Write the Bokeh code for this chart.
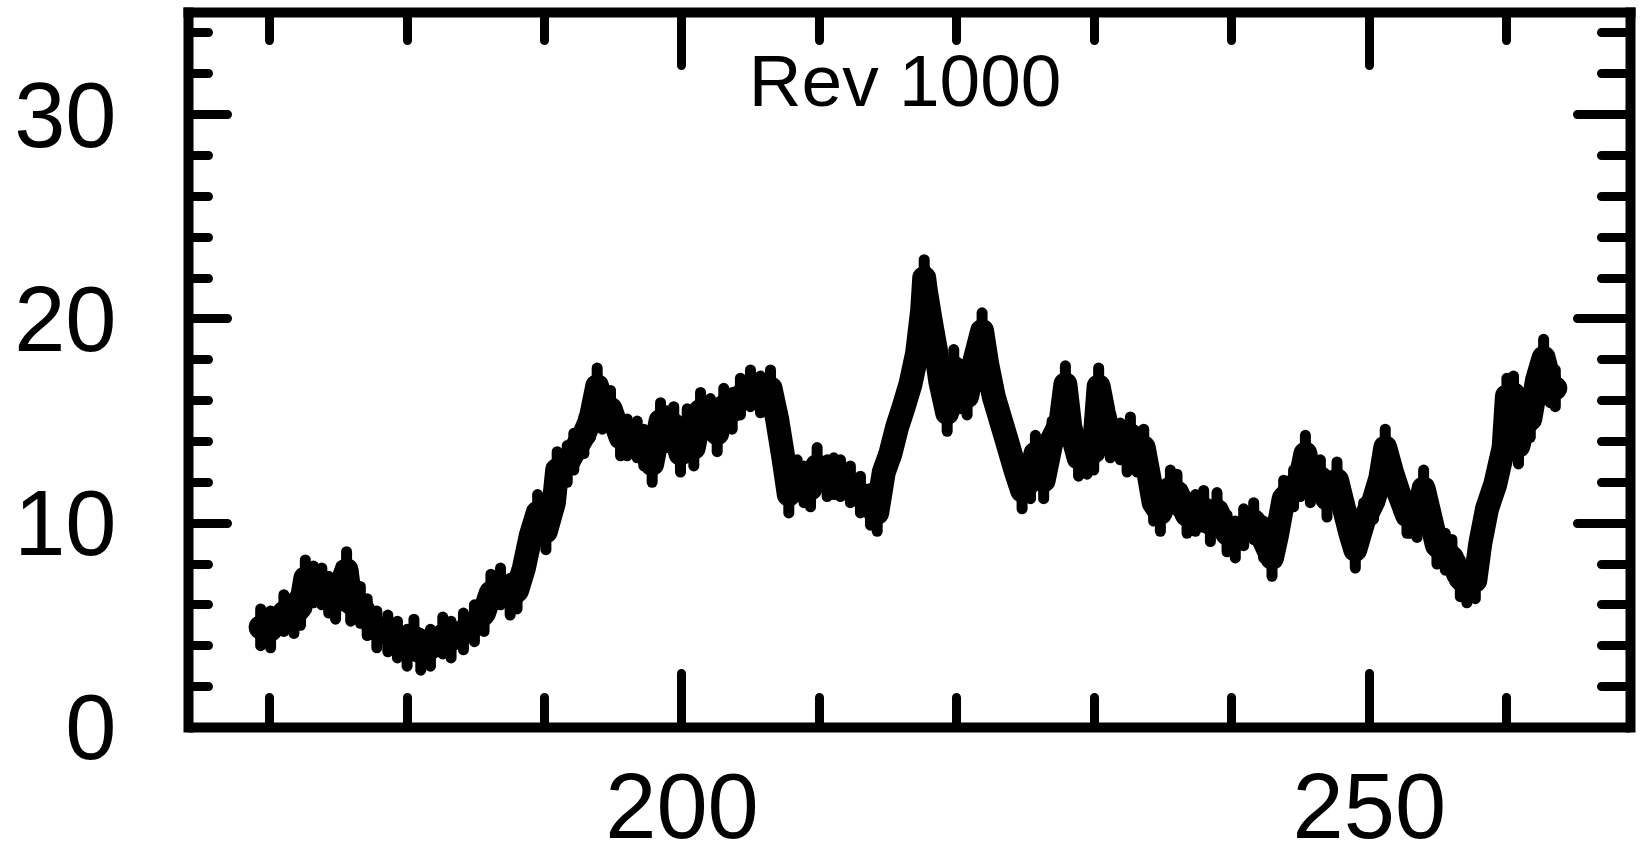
from bokeh.plotting import figure
from bokeh.models import FixedTicker, LinearAxis, Label, Range1d, ColumnDataSource
from bokeh.embed import file_html
from bokeh.resources import INLINE

# ---- data ----
time = [169.35, 170.07, 171.04, 171.77, 172.25, 172.6, 173.2, 173.8, 174.3, 174.8,
        175.2, 175.6, 175.9, 176.6, 177.1, 177.8, 178.6, 179.3, 180.0, 180.5,
        181.0, 181.7, 182.6, 183.2, 184.1, 184.9, 185.6, 186.1, 186.8, 187.5,
        188.0, 188.5, 189.0, 189.5, 190.1, 190.68, 190.92, 191.65, 192.13, 192.86,
        193.35, 193.83, 194.2, 194.8, 195.53, 196.01, 196.74, 197.22, 197.83, 198.44,
        198.92, 199.4, 199.89, 200.38, 200.86, 201.35, 202.07, 202.56, 203.04, 203.65,
        204.25, 204.98, 205.71, 206.44, 206.92, 207.4, 207.77, 208.38, 208.87, 209.35,
        209.83, 210.56, 211.04, 211.53, 212.25, 212.98, 213.71, 214.2, 214.68, 215.16,
        215.65, 216.13, 216.62, 217.1, 217.47, 217.62, 217.71, 218.07, 218.44, 218.8,
        219.29, 219.77, 220.25, 220.74, 221.22, 221.83, 222.2, 222.68, 223.16, 223.65,
        224.25, 224.74, 225.35, 225.71, 226.31, 226.92, 227.53, 227.89, 228.25, 228.85,
        229.47, 229.95, 230.31, 230.68, 231.16, 231.89, 232.38, 232.62, 233.1, 233.59,
        233.95, 234.31, 234.8, 235.53, 236.01, 236.74, 237.35, 237.95, 238.44, 238.92,
        239.65, 240.25, 240.86, 241.59, 242.31, 242.92, 243.28, 243.77, 244.49, 244.98,
        245.35, 245.71, 246.44, 246.92, 247.65, 248.13, 248.62, 248.98, 249.59, 250.31,
        250.8, 251.16, 251.65, 252.13, 252.74, 252.98, 253.47, 253.95, 254.44, 254.92,
        255.53, 256.01, 256.62, 257.1, 257.71, 258.07, 258.56, 259.16, 259.77, 260.01,
        260.49, 260.85, 261.22, 261.71, 262.2, 262.68, 263.16, 263.53]
flux = [4.9, 4.8, 5.6, 5.5, 5.9, 7.3, 7.0, 6.9, 6.5, 6.2,
        7.0, 7.7, 6.1, 6.0, 5.4, 4.8, 4.6, 4.3, 3.9, 4.4,
        3.7, 3.9, 4.5, 4.3, 4.7, 5.1, 5.6, 6.6, 6.9, 6.4,
        6.7, 7.8, 9.4, 10.5, 9.6, 11.0, 12.6, 12.9, 13.5, 14.3,
        15.1, 16.7, 15.5, 15.6, 14.2, 14.2, 14.1, 13.7, 12.9, 15.0,
        14.6, 14.8, 13.4, 14.7, 13.7, 15.5, 15.2, 14.4, 15.7, 15.5,
        16.2, 16.6, 16.3, 16.6, 15.1, 13.1, 11.4, 12.2, 11.9, 11.7,
        12.8, 12.2, 12.3, 12.2, 11.9, 11.4, 10.8, 10.5, 12.5, 13.4,
        14.7, 15.7, 16.8, 18.3, 20.4, 22.0, 21.5, 20.0, 18.6, 16.9,
        15.4, 17.6, 16.5, 16.2, 17.8, 19.4, 17.8, 16.2, 15.1, 14.0,
        12.6, 11.6, 12.1, 13.4, 12.1, 14.1, 14.9, 16.8, 14.7, 13.2,
        13.3, 13.5, 16.7, 15.4, 14.1, 14.0, 13.4, 14.3, 13.4, 13.7,
        12.4, 11.0, 10.5, 11.7, 11.5, 10.4, 10.5, 10.7, 10.0, 10.6,
        9.5, 9.2, 9.8, 10.1, 9.2, 8.3, 9.4, 11.2, 11.7, 12.2,
        13.4, 11.9, 12.2, 11.2, 12.1, 10.8, 9.5, 8.7, 10.1, 11.1,
        12.2, 13.7, 12.5, 11.5, 10.4, 10.4, 10.2, 11.7, 10.3, 8.9,
        8.6, 8.3, 7.3, 7.0, 7.2, 9.0, 10.7, 11.9, 13.7, 16.2,
        16.3, 13.8, 14.8, 15.1, 17.0, 18.1, 16.8, 16.6]
flux_err = 0.9

y_major = [0, 10, 20, 30]
y_minor = [2, 4, 6, 8, 12, 14, 16, 18, 22, 24, 26, 28, 32, 34]
x_major = [150, 200, 250]
x_minor = [170, 180, 190, 210, 220, 230, 240, 260]
title_text = "Rev 1000"

Y_TOP = 35.0
Y_AXIS = 0.0          # the x axis sits at y = 0; room below it holds the tick labels

src = ColumnDataSource(dict(
    x=time, y=flux,
    lo=[v - flux_err for v in flux],
    hi=[v + flux_err for v in flux],
))

p = figure(width=1646, height=865,
           x_range=Range1d(164.1, 269.0), y_range=Range1d(-6.76, Y_TOP),
           output_backend="svg", toolbar_location=None,
           min_border_left=188, min_border_right=16,
           min_border_top=12, min_border_bottom=0)
p.grid.visible = False
p.outline_line_color = None
p.background_fill_color = "white"
p.border_fill_color = "white"

p.line("x", "y", source=src, line_width=24, color="black", line_join="round", line_cap="round")
p.segment("x", "lo", "x", "hi", source=src, line_width=11, color="black", line_cap="round")
p.scatter("x", "y", source=src, size=18, color="black")

right = LinearAxis()
above = LinearAxis()
p.add_layout(right, "right")
p.add_layout(above, "above")

FONT = "Liberation Sans"

def style(ax, major_in, minor_in):
    ax.axis_line_width = 10
    ax.axis_line_color = "black"
    ax.axis_line_cap = "square"
    ax.major_tick_line_width = 9
    ax.minor_tick_line_width = 9
    ax.major_tick_line_color = "black"
    ax.minor_tick_line_color = "black"
    ax.major_tick_line_cap = "round"
    ax.minor_tick_line_cap = "round"
    ax.major_tick_out = 0
    ax.minor_tick_out = 0
    ax.major_tick_in = major_in
    ax.minor_tick_in = minor_in
    ax.major_label_text_font = FONT
    ax.major_label_text_color = "black"

left = p.left[0]
below = p.below[0]

style(left, 39, 20)
style(right, 53, 29)
style(below, 54, 30)
style(above, 53, 28)

yt = FixedTicker(ticks=y_major, minor_ticks=y_minor)
xt = FixedTicker(ticks=x_major, minor_ticks=x_minor)
left.ticker = yt
right.ticker = yt
below.ticker = xt
above.ticker = xt

left.bounds = (Y_AXIS, Y_TOP)
right.bounds = (Y_AXIS, Y_TOP)
below.fixed_location = Y_AXIS

left.major_label_text_font_size = "92px"
left.major_label_standoff = 72
below.major_label_text_font_size = "92px"
below.major_label_standoff = 47
for ax in (right, above):
    ax.major_label_text_font_size = "0px"
    ax.major_label_standoff = 0
    ax.major_label_text_alpha = 0

p.add_layout(Label(x=216.23, y=31.66, text=title_text, text_align="center",
                   text_baseline="alphabetic", text_font=FONT,
                   text_font_size="73px", text_color="black"))

open("out.html", "w").write(file_html(p, INLINE))
